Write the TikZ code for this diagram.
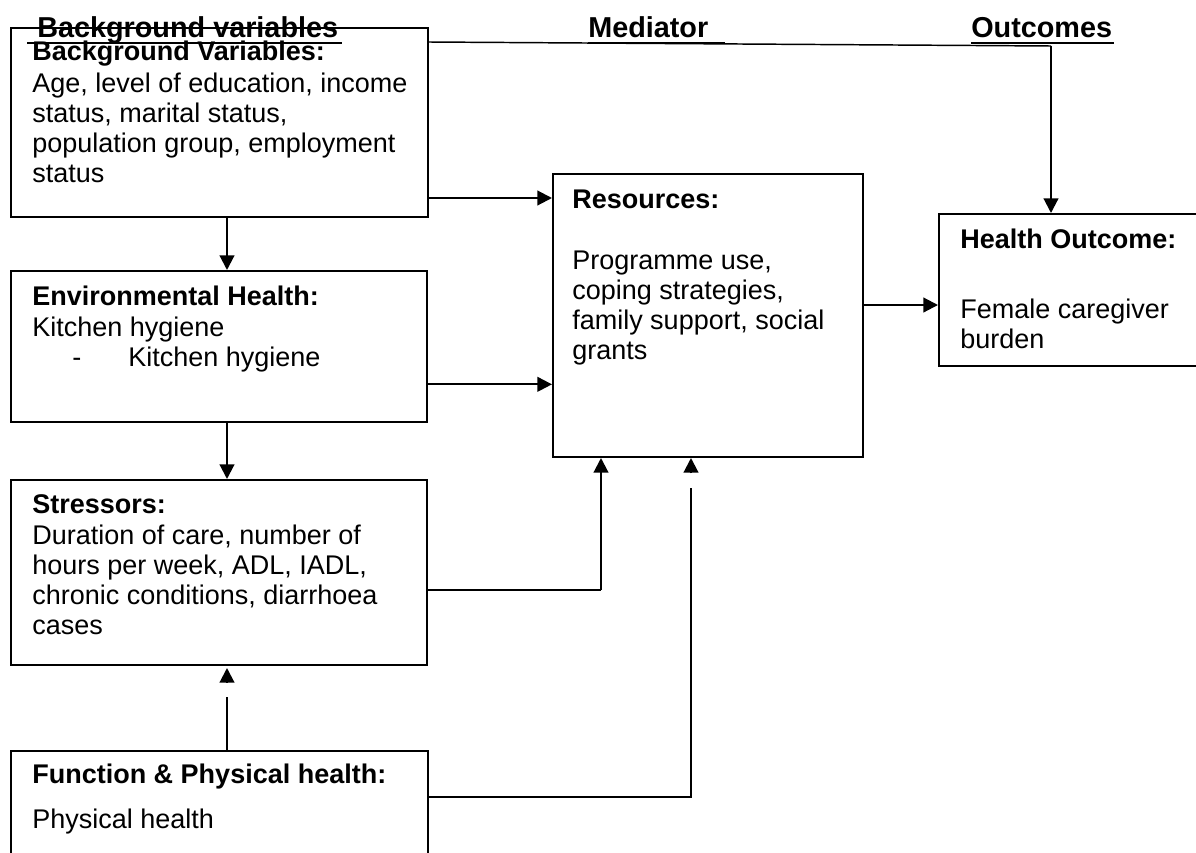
\documentclass[tikz,border=0pt]{standalone}
\usepackage{fontspec}
\setmainfont{Liberation Sans}
\usetikzlibrary{arrows.meta}
\tikzset{
  box/.style={draw, line width=1.5pt, inner sep=0pt, anchor=north west},
  txt/.style={inner sep=0pt, anchor=base west, align=left, font=\fontsize{20.25pt}{22.5pt}\selectfont},
  ttl/.style={inner sep=0pt, anchor=base west, font=\fontsize{20.25pt}{22.5pt}\selectfont\bfseries},
  hdr/.style={inner sep=0pt, anchor=base west, font=\fontsize{21.6pt}{24pt}\selectfont\bfseries},
  ul/.style={line width=1.6pt},
  arr/.style={line width=1.6pt, -{Triangle[length=11pt,width=11pt]}},
  ln/.style={line width=1.6pt},
  thinln/.style={line width=1.1pt}
}
\begin{document}
\begin{tikzpicture}[x=0.75pt,y=-0.75pt]
\clip (0,0) rectangle (1196,853);
\fill[white] (0,0) rectangle (1196,853);
% boxes
\node[box, minimum width=417*0.75pt, minimum height=189*0.75pt] (bg) at (10,27) {};
\node[box, minimum width=416*0.75pt, minimum height=151*0.75pt] (env) at (10,270) {};
\node[box, minimum width=416*0.75pt, minimum height=185*0.75pt] (str) at (10,479) {};
\node[box, minimum width=417*0.75pt, minimum height=140*0.75pt] (fun) at (10,750) {};
\node[box, minimum width=310*0.75pt, minimum height=283*0.75pt] (res) at (552,173) {};
\node[box, minimum width=280*0.75pt, minimum height=152*0.75pt] (out) at (938,213) {};
% headers
\node[hdr] (hbg) at (37,37) {Background variables};
\node[hdr] (hmed) at (588,37) {Mediator};
\node[hdr] (hout) at (971,37) {Outcomes};
\draw[ul] (27,43) -- (342,43);
\draw[ul] (588,43) -- (725,43);
\draw[ul] (971,43) -- (1114,43);
% texts (base = baseline of the last line)
\node[ttl] (tbg) at (32,60) {Background Variables:};
\node[txt] (bbg) at (32,182) {Age, level of education, income\\status, marital status,\\population group, employment\\status};
\node[ttl] (tenv) at (32,305) {Environmental Health:};
\node[txt] (benv1) at (32,336) {Kitchen hygiene};
\node[txt] (benv2) at (72,366) {-};
\node[txt] (benv3) at (128,366) {Kitchen hygiene};
\node[ttl] (tstr) at (32,513) {Stressors:};
\node[txt] (bstr) at (32,634) {Duration of care, number of\\hours per week, ADL, IADL,\\chronic conditions, diarrhoea\\cases};
\node[ttl] (tfun) at (32,783) {Function \& Physical health:};
\node[txt] (bfun) at (32,828) {Physical health};
\node[ttl] (tres) at (572,208) {Resources:};
\node[txt] (bres) at (572,359) {Programme use,\\coping strategies,\\family support, social\\grants};
\node[ttl] (tout) at (960,248) {Health Outcome:};
\node[txt] (bout) at (960,348) {Female caregiver\\burden};
% helper coordinates
\coordinate (xl) at (227,0);
\coordinate (j) at (1051,46);
\coordinate (xr1) at (601,0);
\coordinate (xr2) at (691,0);
% connectors
\draw[thinln] ([yshift=-11.25pt]bg.north east) -- (j);
\draw[arr] (j) -- (j |- out.north);
\draw[arr] ([yshift=15pt]bg.south east) coordinate (a1) -- (a1 -| res.west);
\draw[arr] ([yshift=29pt]env.south east) coordinate (a2) -- (a2 -| res.west);
\draw[arr] (bg.south -| xl) -- (env.north -| xl);
\draw[arr] (env.south -| xl) -- (str.north -| xl);
\draw[ln] ([yshift=57pt]str.south east) coordinate (a3) -- (a3 -| xr1);
\draw[arr] (a3 -| xr1) -- (res.south -| xr1);
\draw[ln] ([yshift=-35pt]fun.north east) coordinate (a4) -- (a4 -| xr2) -- ([yshift=-22.5pt]res.south -| xr2);
\draw[arr] ([yshift=-11.5pt]res.south -| xr2) -- (res.south -| xr2);
\draw[ln] (fun.north -| xl) -- ([yshift=-23pt]str.south -| xl);
\draw[arr] ([yshift=-12pt]str.south -| xl) -- ([yshift=-1.5pt]str.south -| xl);
\draw[arr] (res.east |- 0,305) coordinate (a5) -- (a5 -| out.west);
\end{tikzpicture}
\end{document}
